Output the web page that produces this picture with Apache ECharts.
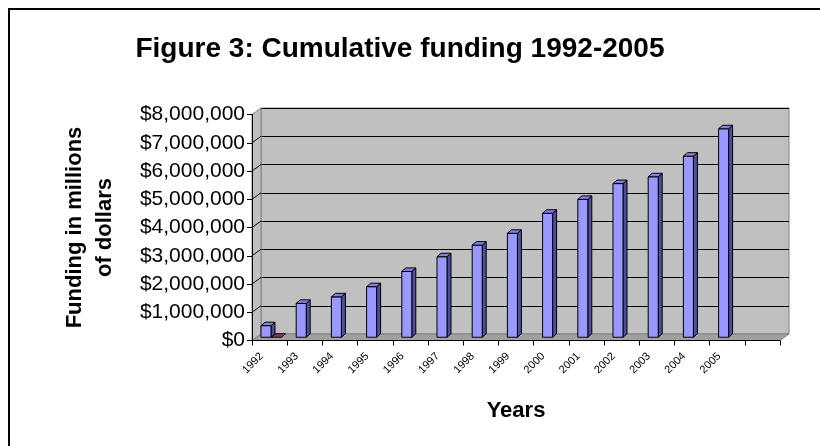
<!DOCTYPE html>
<html>
<head>
<meta charset="utf-8">
<script src="https://cdn.jsdelivr.net/npm/echarts@6/dist/echarts.min.js"></script>
<style>
html,body{margin:0;padding:0;background:#fff;}
#c{width:820px;height:446px;}
</style>
</head>
<body>
<div id="c"></div>
<script>
// ---- data ----
const years = ['1992','1993','1994','1995','1996','1997','1998','1999','2000','2001','2002','2003','2004','2005',''];
const funding = [410000,1200000,1430000,1790000,2330000,2850000,3260000,3680000,4390000,4880000,5440000,5680000,6410000,7380000,null];
const other = [0,null,null,null,null,null,null,null,null,null,null,null,null,null,null];
const yMin = 0, yMax = 8000000, yStep = 1000000;

// ---- layout (styles/positions) ----
const FONT = 'Liberation Sans, Arial, sans-serif';
const F = {left:252, right:40, top:114.5, bottom:105.5};   // front plane
const DX = 9, DY = -6.5;                                  // depth of the box
const W = {left:F.left+DX, right:F.right-DX, top:F.top+DY, bottom:F.bottom-DY};
const M = {left:F.left+DX/2, right:F.right-DX/2, top:F.top+DY/2, bottom:F.bottom-DY/2};
const L = {left:F.left-8, right:F.right+8, top:F.top, bottom:F.bottom};

const chart = echarts.init(document.getElementById('c'));

function toData(arr){ const d=[]; arr.forEach((v,i)=>{ if(v!==null) d.push([i,v]); }); return d; }

function barRender(off, front, side, top){
  return function(params, api){
    const i = api.value(0), v = api.value(1);
    const c = api.coord([i, v]), b = api.coord([i, 0]);
    const bw = api.size([1,0])[0];
    const w = 10, dx = 4, dy = -3.5;
    const x0 = c[0] - bw/2 + off, x1 = x0 + w;
    const yT = c[1], yB = b[1];
    const st = {stroke:'#000', lineWidth:1};
    const children = [];
    if (yB - yT > 0.5) {
      children.push({type:'polygon', shape:{points:[[x1,yT],[x1+dx,yT+dy],[x1+dx,yB+dy],[x1,yB]]}, style:Object.assign({fill:side},st)});
      children.push({type:'rect', shape:{x:x0,y:yT,width:w,height:yB-yT}, style:Object.assign({fill:front},st)});
    }
    children.push({type:'polygon', shape:{points:[[x0,yT],[x0+dx,yT+dy],[x1+dx,yT+dy],[x1,yT]]}, style:Object.assign({fill:top},st)});
    return {type:'group', children};
  };
}

function boxRender(params, api){
  const bw = api.size([1,0])[0];
  const first = api.coord([0,0]), last = api.coord([years.length-1,0]);
  const xL = first[0]-bw/2, xR = last[0]+bw/2, y0 = first[1];
  const yT = api.coord([0,yMax])[1];
  const children = [];
  children.push({type:'polygon', shape:{points:[[xL,y0],[xL,yT],[xL+DX,yT+DY],[xL+DX,y0+DY]]}, style:{fill:'#C0C0C0', stroke:'#808080', lineWidth:1}});
  children.push({type:'polygon', shape:{points:[[xL,y0],[xR,y0],[xR+DX,y0+DY],[xL+DX,y0+DY]]}, style:{fill:'#A0A0A0', stroke:'#808080', lineWidth:1}});
  for (let v = yMin + yStep; v < yMax; v += yStep) {
    const y = api.coord([0,v])[1];
    children.push({type:'line', shape:{x1:xL,y1:y,x2:xL+DX,y2:y+DY}, style:{stroke:'#000', lineWidth:1}});
  }
  return {type:'group', children};
}

const option = {
  animation:false,
  backgroundColor:'#fff',
  title:{
    text:'Figure 3: Cumulative funding 1992-2005',
    left:395, top:30, textAlign:'center',
    textStyle:{fontFamily:FONT, fontSize:28, fontWeight:'bold', color:'#000'}
  },
  grid:[
    Object.assign({show:false}, F),
    Object.assign({show:true, backgroundColor:'#C0C0C0', borderColor:'#808080', borderWidth:1, z:-1}, W),
    Object.assign({show:false}, M),
    Object.assign({show:false}, L)
  ],
  xAxis:[
    {type:'category', gridIndex:0, data:years, boundaryGap:true, z:5,
     axisLine:{show:true, lineStyle:{color:'#000', width:1}},
     axisTick:{show:true, interval:0, length:5, lineStyle:{color:'#000'}},
     axisLabel:{show:false}, splitLine:{show:false},
     name:'Years', nameLocation:'middle', nameGap:59,
     nameTextStyle:{fontFamily:FONT, fontSize:22, fontWeight:'bold', color:'#000'}},
    {type:'category', gridIndex:1, data:years, show:false},
    {type:'category', gridIndex:2, data:years, show:false},
    {type:'category', gridIndex:3, data:years, boundaryGap:true,
     axisLine:{show:false}, axisTick:{show:false}, splitLine:{show:false},
     axisLabel:{show:true, interval:0, rotate:45, margin:14, fontFamily:FONT, fontSize:11, color:'#000'}}
  ],
  yAxis:[
    {type:'value', gridIndex:0, min:yMin, max:yMax, interval:yStep, z:5,
     axisLine:{show:true, lineStyle:{color:'#000', width:1}},
     axisTick:{show:true, length:5, lineStyle:{color:'#000'}},
     splitLine:{show:false},
     axisLabel:{margin:7, fontFamily:FONT, fontSize:21, color:'#000',
       formatter:v=>'$'+Number(v).toLocaleString('en-US')},
     name:'Funding in millions\nof dollars', nameLocation:'middle', nameRotate:90, nameGap:132,
     nameTextStyle:{fontFamily:FONT, fontSize:22, fontWeight:'bold', color:'#000', lineHeight:30}},
    {type:'value', gridIndex:1, min:yMin, max:yMax, interval:yStep,
     axisLine:{show:false}, axisTick:{show:false}, axisLabel:{show:false},
     splitLine:{show:true, lineStyle:{color:'#000', width:1}}},
    {type:'value', gridIndex:2, min:yMin, max:yMax, interval:yStep, show:false},
    {type:'value', gridIndex:3, min:yMin, max:yMax, interval:yStep, show:false}
  ],
  series:[
    {type:'custom', xAxisIndex:0, yAxisIndex:0, z:1, silent:true, data:[[0,0]], renderItem:boxRender},
    {type:'custom', name:'Funding', xAxisIndex:2, yAxisIndex:2, z:3, data:toData(funding),
     encode:{x:0,y:1}, renderItem:barRender(4.5,'#9999FF','#4D4D99','#8080E6')},
    {type:'custom', name:'Other', xAxisIndex:2, yAxisIndex:2, z:3, data:toData(other),
     encode:{x:0,y:1}, renderItem:barRender(15,'#993366','#4D1A33','#993366')}
  ],
  graphic:[
    {type:'rect', z:10, shape:{x:9, y:9, width:900, height:600}, style:{fill:'none', stroke:'#000', lineWidth:2}}
  ]
};
chart.setOption(option);
</script>
</body>
</html>
